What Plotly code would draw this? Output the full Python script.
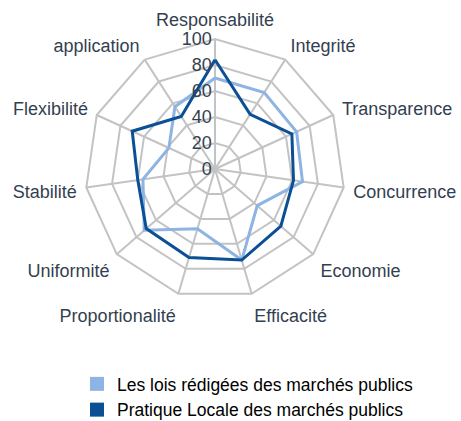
import plotly.graph_objects as go

categories = ["Responsabilité", "Integrité", "Transparence", "Concurrence", "Economie",
              "Efficacité", "Proportionalité", "Uniformité", "Stabilité", "Flexibilité", "application"]
lois = [70, 70, 69, 68, 43, 73, 48, 72, 56, 39, 57]
pratique = [84, 50, 65, 61, 67, 73, 71, 70, 60, 70, 48]
series_names = ["Les lois rédigées des marchés publics", "Pratique Locale des marchés publics"]
colors = ["#8eb4e3", "#0b4f94"]
tick_vals = [0, 20, 40, 60, 80, 100]

fig = go.Figure()
for name, vals, col in zip(series_names, [lois, pratique], colors):
    fig.add_trace(go.Scatterpolar(
        r=vals + vals[:1], theta=categories + categories[:1], mode="lines",
        line=dict(color=col, width=3), showlegend=False, name=name))
for name, col in zip(series_names, colors):
    fig.add_trace(go.Scatterpolar(
        r=[None], theta=[categories[0]], mode="markers", name=name,
        marker=dict(symbol="square", size=14, color=col)))

W, H = 461, 421
cx, cy, R = 215, 169, 130
fig.update_layout(
    width=W, height=H, margin=dict(l=0, r=0, t=0, b=0, autoexpand=False),
    paper_bgcolor="white", plot_bgcolor="white",
    font=dict(family="Liberation Sans, Arial, sans-serif", size=18, color="#333f50"),
    polar=dict(
        domain=dict(x=[(cx - R) / W, (cx + R) / W], y=[(H - cy - R) / H, (H - cy + R) / H]),
        bgcolor="white", gridshape="linear",
        angularaxis=dict(direction="clockwise", rotation=90, showline=True,
                         linecolor="#c3c3c3", linewidth=2, gridcolor="#c3c3c3", gridwidth=2,
                         ticks="outside", ticklen=5, tickcolor="rgba(0,0,0,0)",
                         tickfont=dict(size=18, color="#333f50")),
        radialaxis=dict(range=[0, 100], tickvals=tick_vals, angle=90, tickangle=90, showline=False,
                        gridcolor="#c3c3c3", gridwidth=2, ticks="",
                        tickfont=dict(size=18, color="#333f50"), side="counterclockwise"),
    ),
    legend=dict(x=77 / W, y=-7 / H, xanchor="left", yanchor="bottom",
                font=dict(size=17.5, color="#000000"), itemwidth=30, tracegroupgap=0,
                bgcolor="rgba(0,0,0,0)"),
)
fig.write_html("out.html", config={"displayModeBar": False},
               post_script="document.body.style.margin='0';document.body.style.padding='0';")
